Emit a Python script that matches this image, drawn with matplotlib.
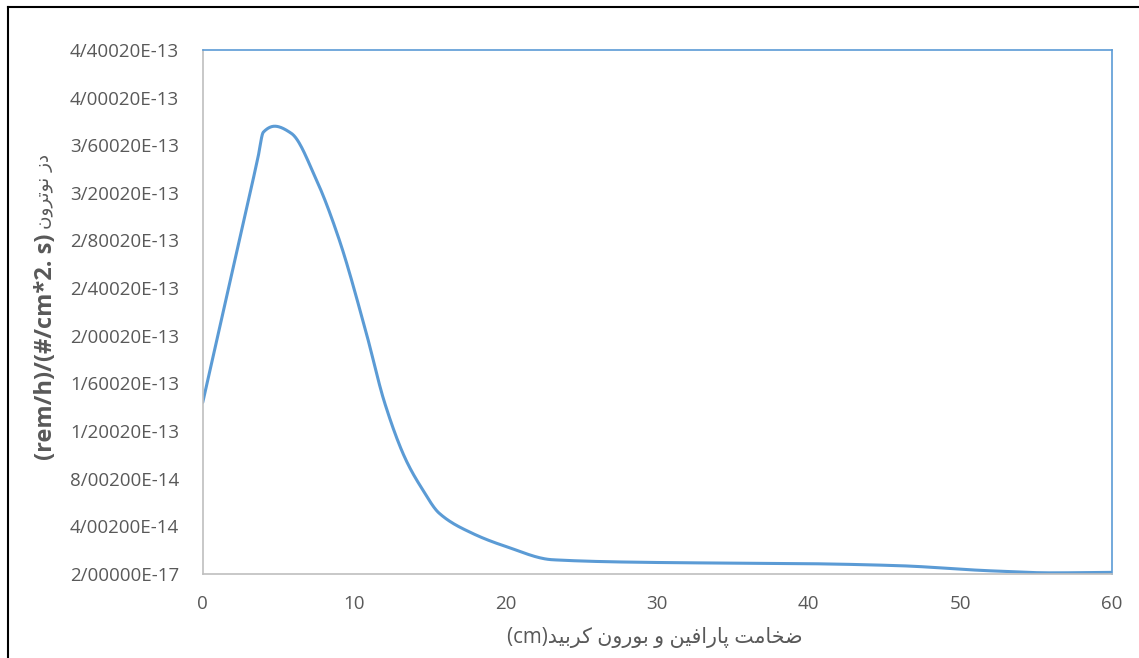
import numpy as np
import matplotlib
matplotlib.use("Agg")
import matplotlib.pyplot as plt
from matplotlib.lines import Line2D

# data (thickness in cm, dose in units of 1e-13)
thickness = [0, 2.0, 3.65, 4.0, 4.75, 5.85, 7.5, 9.0, 10.8, 12.0, 13.4, 14.5, 15.6, 17.8, 20,
             23.1, 30, 40, 46, 52, 56, 60]
dose_e13 = [1.44, 2.57, 3.50, 3.71, 3.76, 3.70, 3.31, 2.81, 2.02, 1.44, 0.96, 0.71, 0.51, 0.34,
            0.23, 0.118, 0.095, 0.085, 0.068, 0.025, 0.008, 0.012]

x_ticks = [0, 10, 20, 30, 40, 50, 60]
y_ticks_e13 = [0.0002, 0.4002, 0.8002, 1.2002, 1.6002, 2.0002, 2.4002,
               2.8002, 3.2002, 3.6002, 4.0002, 4.4002]
y_tick_labels = ["2/00000E-17", "4/00200E-14", "8/00200E-14", "1/20020E-13",
                 "1/60020E-13", "2/00020E-13", "2/40020E-13", "2/80020E-13",
                 "3/20020E-13", "3/60020E-13", "4/00020E-13", "4/40020E-13"]

# persian text in presentation forms, visual order (matplotlib does no shaping)
ylabel_latin = "(rem/h)/(#/cm*2. s)"
ylabel_fa = "\uFEE5\uFEED\uFEAE\uFE97\uFEEE\uFEE7 \uFEAF\uFEA9"
xlabel_text = ("(cm)" + "\uFEAA\uFBFF\uFE91\uFEAE\uFB90" + " "
               + "\uFEE5\uFEED\uFEAD\uFEEE\uFE91" + " " + "\uFEED" + " "
               + "\uFEE6\uFBFF\uFED3\uFE8D\uFEAD\uFE8E\uFB58" + " "
               + "\uFE96\uFEE3\uFE8E\uFEA8\uFEBF")

GREY = "#595959"
BLUE = "#5B9BD5"


def smooth_curve(x, y, n=30):
    # monotone cubic (Fritsch-Carlson) so the smoothed line never loops
    x = np.asarray(x, float)
    y = np.asarray(y, float)
    h = np.diff(x)
    d = np.diff(y) / h
    m = np.zeros_like(y)
    m[0], m[-1] = d[0], d[-1]
    for k in range(1, len(x) - 1):
        if d[k - 1] * d[k] <= 0:
            m[k] = 0.0
        else:
            w1 = 2 * h[k] + h[k - 1]
            w2 = h[k] + 2 * h[k - 1]
            m[k] = (w1 + w2) / (w1 / d[k - 1] + w2 / d[k])
    xs, ys = [], []
    for k in range(len(x) - 1):
        t = np.linspace(0, 1, n)
        if k > 0:
            t = t[1:]
        h00 = 2 * t ** 3 - 3 * t ** 2 + 1
        h10 = t ** 3 - 2 * t ** 2 + t
        h01 = -2 * t ** 3 + 3 * t ** 2
        h11 = t ** 3 - t ** 2
        xs.append(x[k] + t * h[k])
        ys.append(h00 * y[k] + h10 * h[k] * m[k] + h01 * y[k + 1] + h11 * h[k] * m[k + 1])
    return np.concatenate(xs), np.concatenate(ys)


fig = plt.figure(figsize=(11.39, 6.58), dpi=100)
ax = fig.add_axes([0.178, 0.128, 0.798, 0.796])

xs, ys = smooth_curve(thickness, dose_e13)
ax.plot(xs, ys * 1e-13, color=BLUE, lw=2.2, solid_capstyle="round", solid_joinstyle="round")

ax.set_xlim(0, 60)
ax.set_ylim(2e-17, 4.4002e-13)
ax.set_xticks(x_ticks)
ax.set_xticklabels([str(v) for v in x_ticks])
ax.set_yticks([v * 1e-13 for v in y_ticks_e13])
ax.set_yticklabels(y_tick_labels)
ax.tick_params(length=0, labelsize=13.5, labelcolor=GREY)
ax.tick_params(axis="x", pad=15)
ax.tick_params(axis="y", pad=17)
for lab in ax.get_xticklabels() + ax.get_yticklabels():
    lab.set_family(["Open Sans", "DejaVu Sans"])

ax.spines["left"].set_color("#BFBFBF")
ax.spines["bottom"].set_color("#BFBFBF")
ax.spines["top"].set_color(BLUE)
ax.spines["right"].set_color(BLUE)
for s in ax.spines.values():
    s.set_linewidth(1.2)

fig.text(655 / 1139, 1 - 637 / 658, xlabel_text, ha="center", va="center", fontsize=14.8,
         color=GREY, family=["Open Sans", "DejaVu Sans"])
fig.text(46 / 1139, 1 - 460 / 658, ylabel_latin, rotation=90, ha="center", va="bottom",
         fontsize=17, color=GREY, fontweight="bold", family=["Open Sans", "DejaVu Sans"])
fig.text(44 / 1139, 1 - 229 / 658, ylabel_fa, rotation=90, ha="center", va="bottom",
         fontsize=13.2, color=GREY, family=["DejaVu Sans"])

# outer frame of the screenshot
fig.add_artist(Line2D([8 / 1139, 8 / 1139], [0, 1 - 7 / 658], transform=fig.transFigure,
                      color="black", lw=1.5))
fig.add_artist(Line2D([8 / 1139, 1], [1 - 7 / 658, 1 - 7 / 658], transform=fig.transFigure,
                      color="black", lw=1.5))

fig.savefig("out.png", dpi=100)
